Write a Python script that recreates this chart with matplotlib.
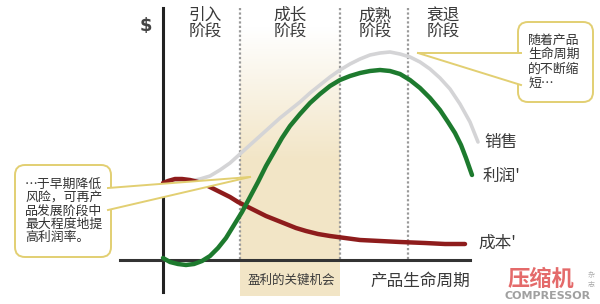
import numpy as np
import matplotlib
matplotlib.use("Agg")
import matplotlib.pyplot as plt
from matplotlib.patches import FancyBboxPatch, Polygon

plt.rcParams['font.family'] = ['Noto Sans CJK SC', 'DejaVu Sans']

# values (pixel-like units, y grows downward)
sales_x = [163, 175, 190, 200, 210, 220, 230, 240, 250, 260, 270, 280, 290, 300, 310, 320,
           330, 340, 350, 360, 370, 380, 390, 400, 410, 420, 430, 440, 450, 460, 470, 478]
sales_y = [183, 183, 181, 179, 176, 170, 163, 154, 145, 136, 127, 118, 110, 102, 93, 85,
           77, 70, 64, 59, 55, 53, 52, 54, 57, 62, 69, 78, 89, 104, 122, 142]

profit_x = [163, 170, 178, 186, 194, 202, 210, 218, 226, 234, 242, 250, 258, 266, 274, 282,
            290, 300, 310, 320, 330, 340, 350, 360, 370, 380, 390, 400, 410, 420, 430, 440,
            448, 455, 461, 466, 472]
profit_y = [258, 262, 264, 265, 264, 261, 256, 248, 238, 225, 212, 197, 182, 166, 152, 138,
            126, 114, 103, 94, 86, 80, 76, 73, 71, 70, 71, 74, 80, 88, 98, 110,
            122, 133, 145, 158, 175]

cost_x = [163, 168, 175, 182, 190, 198, 206, 214, 222, 230, 238, 246, 256, 266, 276, 286,
          296, 306, 318, 330, 345, 360, 380, 400, 425, 445, 465]
cost_y = [183, 181, 179, 179, 180, 182, 185, 189, 193, 197, 202, 206, 211, 216, 220, 224,
          228, 231, 234, 236, 238, 240, 241, 242, 243, 244, 244]

stage_x = [205, 290, 375, 443]
stage_labels = ['引入\n阶段', '成长\n阶段', '成熟\n阶段', '衰退\n阶段']
stage_bounds = [240, 340, 408]

curve_labels = ['销售', "利润'", "成本'"]
curve_label_pos = [(484, 143), (483, 176), (478, 243)]

left_note = '…于早期降低\n风险，可再产\n品发展阶段中\n最大程度地提\n高利润率。'
right_note = '随着产品\n生命周期\n的不断缩\n短…'

fig = plt.figure(figsize=(6.0, 3.04), dpi=100)
ax = fig.add_axes([0, 0, 1, 1])
ax.set_xlim(0, 600)
ax.set_ylim(304, 0)
ax.axis('off')

# shaded growth stage, fading to white at the top
grad = np.linspace(0, 1, 200).reshape(-1, 1)
grad = np.clip(grad * 2.2 - 0.15, 0, 1)
c_top = np.array([1.0, 1.0, 1.0])
c_bot = np.array([0.95, 0.90, 0.78])
img = c_top + (c_bot - c_top) * grad[..., None]
img = np.repeat(img, 2, axis=1)
ax.imshow(img, extent=[stage_bounds[0], stage_bounds[1], 296, 8], aspect='auto', zorder=0)

# dotted stage boundaries
for xb in stage_bounds:
    ax.plot([xb, xb], [8, 260], color='#9a9a9a', lw=1.6, ls=(0, (1, 1)), zorder=1)

# axes
ax.plot([163, 163], [8, 292], color='#222222', lw=2.2, zorder=2)
ax.plot([120, 470], [260, 260], color='#333333', lw=2.2, zorder=2)
ax.text(146, 26, '$', fontsize=13, fontweight='bold', color='#444444',
        ha='center', va='center', family='DejaVu Sans')

# curves
ax.plot(sales_x, sales_y, color='#d4d4d6', lw=2.6, solid_capstyle='round',
        solid_joinstyle='round', zorder=3)
ax.plot(cost_x, cost_y, color='#8e1c1c', lw=3.2, solid_capstyle='round',
        solid_joinstyle='round', zorder=4)
ax.plot(profit_x, profit_y, color='#1d7a2e', lw=3.2, solid_capstyle='round',
        solid_joinstyle='round', zorder=4)

# stage labels
for sx, lab in zip(stage_x, stage_labels):
    ax.text(sx, 24, lab, fontsize=12, color='#3a3a3a', ha='center', va='center',
            linespacing=1.0)

for lab, (lx, ly) in zip(curve_labels, curve_label_pos):
    ax.text(lx, ly, lab, fontsize=12, color='#3a3a3a', ha='left', va='center')

ax.text(420, 281, '产品生命周期', fontsize=12, color='#3a3a3a', ha='center', va='center')
ax.text(291, 280, '盈利的关键机会', fontsize=9, color='#3a3a3a', ha='center', va='center')

# callouts
edge = '#e2cf72'

def callout(x0, y0, w, h, tail, text, size, spacing):
    box = FancyBboxPatch((x0, y0), w, h, boxstyle='round,pad=0,rounding_size=10',
                         fc='white', ec=edge, lw=1.4, zorder=6)
    ax.add_patch(box)
    ax.add_patch(Polygon(tail, closed=True, fc='white', ec='none', zorder=7))
    ax.plot([tail[0][0], tail[1][0]], [tail[0][1], tail[1][1]], color=edge, lw=1.4, zorder=8)
    ax.plot([tail[2][0], tail[1][0]], [tail[2][1], tail[1][1]], color=edge, lw=1.4, zorder=8)
    ax.text(x0 + 10, y0 + h / 2, text, fontsize=size, color='#333333',
            ha='left', va='center', multialignment='left',
            linespacing=spacing, zorder=9)

callout(15, 165, 96, 92, [(108, 188), (250, 177), (108, 210)], left_note, 9.3, 1.02)
callout(518, 22, 75, 80, [(521, 53), (418, 53), (521, 85)], right_note, 9.3, 1.12)

# watermark
ax.text(541, 280, '压缩机', fontsize=16, fontweight='bold', color='#e46a6a',
        ha='center', va='center', zorder=10)
ax.text(548, 296, 'COMPRESSOR', fontsize=8, fontweight='bold', color='#a0a0a0',
        ha='center', va='center', family='DejaVu Sans', zorder=10)
ax.text(591, 280, '杂\n志', fontsize=5, color='#b0b0b0', ha='center', va='center', zorder=10)

fig.savefig('out.png', dpi=100)
